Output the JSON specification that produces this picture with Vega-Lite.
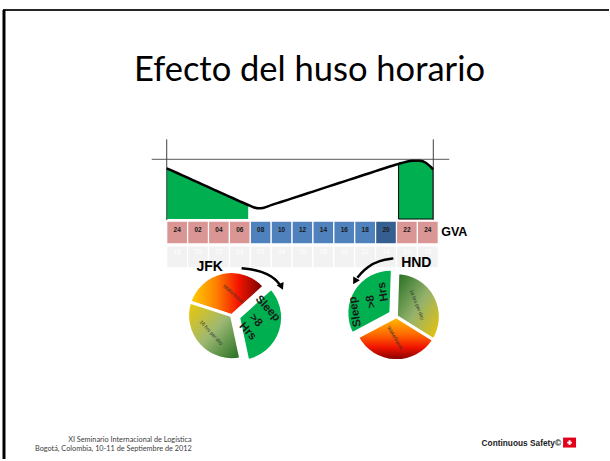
{
  "$schema": "https://vega.github.io/schema/vega-lite/v6.json",
  "width": 610,
  "height": 461,
  "autosize": {"type": "fit", "contains": "padding"},
  "padding": 0,
  "background": "white",
  "config": {"view": {"stroke": null}, "axis": {"disable": true}},
  "resolve": {"scale": {"theta": "independent"}},
  "datasets": {
    "curve": [
      {"hour": -1, "level": 85}, {"hour": 0, "level": 77.1}, {"hour": 1, "level": 69.2}, {"hour": 2, "level": 61.3},
      {"hour": 3, "level": 53.4}, {"hour": 4, "level": 45.5}, {"hour": 5, "level": 37.6}, {"hour": 6, "level": 29.7},
      {"hour": 6.8, "level": 23.5}, {"hour": 7.3, "level": 19.8}, {"hour": 7.8, "level": 18}, {"hour": 8.3, "level": 19},
      {"hour": 9, "level": 23.2}, {"hour": 10, "level": 28.9}, {"hour": 11, "level": 34.6}, {"hour": 12, "level": 40.3},
      {"hour": 13, "level": 46}, {"hour": 14, "level": 51.7}, {"hour": 15, "level": 57.4}, {"hour": 16, "level": 63.1},
      {"hour": 17, "level": 68.8}, {"hour": 18, "level": 74.5}, {"hour": 19, "level": 80.2}, {"hour": 20, "level": 85.9},
      {"hour": 21, "level": 91.3}, {"hour": 21.2, "level": 92.3}, {"hour": 21.8, "level": 95.3}, {"hour": 22.5, "level": 97.6},
      {"hour": 23.2, "level": 97.4}, {"hour": 23.8, "level": 94.2}, {"hour": 24.2, "level": 88.5}, {"hour": 24.5, "level": 83}
    ],
    "slots": [
      {"hour": 0, "from": -1, "to": 1, "gva": "24", "jfk": "18", "period": "night"},
      {"hour": 2, "from": 1, "to": 3, "gva": "02", "jfk": "20", "period": "night"},
      {"hour": 4, "from": 3, "to": 5, "gva": "04", "jfk": "22", "period": "night"},
      {"hour": 6, "from": 5, "to": 7, "gva": "06", "jfk": "24", "period": "night"},
      {"hour": 8, "from": 7, "to": 9, "gva": "08", "jfk": "02", "period": "day"},
      {"hour": 10, "from": 9, "to": 11, "gva": "10", "jfk": "04", "period": "day"},
      {"hour": 12, "from": 11, "to": 13, "gva": "12", "jfk": "06", "period": "day"},
      {"hour": 14, "from": 13, "to": 15, "gva": "14", "jfk": "08", "period": "day"},
      {"hour": 16, "from": 15, "to": 17, "gva": "16", "jfk": "10", "period": "day"},
      {"hour": 18, "from": 17, "to": 19, "gva": "18", "jfk": "12", "period": "day"},
      {"hour": 20, "from": 19, "to": 21, "gva": "20", "jfk": "14", "period": "evening"},
      {"hour": 22, "from": 21, "to": 23, "gva": "22", "jfk": "16", "period": "night"},
      {"hour": 24, "from": 23, "to": 25, "gva": "24", "jfk": "18", "period": "night"}
    ],
    "slices": [
      {"city": "JFK", "activity": "travel", "start": 0, "end": 8},
      {"city": "JFK", "activity": "sleep", "start": 8, "end": 16},
      {"city": "JFK", "activity": "day", "start": 16, "end": 24},
      {"city": "HND", "activity": "day", "start": 0, "end": 8},
      {"city": "HND", "activity": "travel", "start": 8, "end": 16},
      {"city": "HND", "activity": "sleep", "start": 16, "end": 24}
    ],
    "jfkArrow": [
      {"hour": 6.171, "level": -82.5}, {"hour": 7.509, "level": -85}, {"hour": 8.655, "level": -91.67},
      {"hour": 9.42, "level": -100.83}, {"hour": 9.8, "level": -109.17}
    ],
    "hndArrow": [
      {"hour": 20.698, "level": -65.83}, {"hour": 19.36, "level": -69.17}, {"hour": 18.213, "level": -80},
      {"hour": 17.544, "level": -91.67}, {"hour": 17.257, "level": -98.33}
    ]
  },
  "layer": [
    {
      "data": {"values": [{}]},
      "mark": {"type": "rule", "color": "#262626", "strokeWidth": 2},
      "encoding": {
        "x": {"datum": -16.676, "type": "quantitative", "scale": {"domain": [-16.963, 41.346], "nice": false, "zero": false}},
        "x2": {"datum": 41.346},
        "y": {"datum": 350, "type": "quantitative", "scale": {"domain": [-401.667, 366.667], "nice": false, "zero": false}}
      }
    },
    {
      "data": {"values": [{}]},
      "mark": {"type": "rule", "color": "#000000", "strokeWidth": 3},
      "encoding": {
        "x": {"datum": -16.581, "type": "quantitative"},
        "y": {"datum": 350, "type": "quantitative"},
        "y2": {"datum": -401.667}
      }
    },
    {
      "data": {"values": [{"t": "Efecto del huso horario"}]},
      "mark": {"type": "text", "font": "Lato", "fontSize": 34.5, "color": "#000000", "align": "center", "baseline": "alphabetic"},
      "encoding": {
        "x": {"datum": 12.669, "type": "quantitative"},
        "y": {"datum": 230.5, "type": "quantitative"},
        "text": {"field": "t"}
      }
    },
    {
      "data": {"name": "curve"},
      "transform": [{"filter": "datum.hour <= 6.8"}],
      "mark": {"type": "area", "color": "#00b050", "interpolate": "monotone"},
      "encoding": {
        "x": {"field": "hour", "type": "quantitative"},
        "y": {"field": "level", "type": "quantitative"},
        "y2": {"datum": 0}
      }
    },
    {
      "data": {"name": "curve"},
      "transform": [{"filter": "datum.hour >= 21.2"}],
      "mark": {"type": "area", "color": "#00b050", "interpolate": "monotone", "stroke": "#000000", "strokeWidth": 1},
      "encoding": {
        "x": {"field": "hour", "type": "quantitative"},
        "y": {"field": "level", "type": "quantitative"},
        "y2": {"datum": 0}
      }
    },
    {
      "data": {"values": [{}]},
      "mark": {"type": "rule", "color": "#595959", "strokeWidth": 1},
      "encoding": {
        "x": {"datum": -2.434, "type": "quantitative"},
        "x2": {"datum": 26.05},
        "y": {"datum": 100, "type": "quantitative"}
      }
    },
    {
      "data": {"values": [{"h": -1}, {"h": 24.522}]},
      "mark": {"type": "rule", "color": "#404040", "strokeWidth": 1},
      "encoding": {
        "x": {"field": "h", "type": "quantitative"},
        "y": {"datum": 133.3, "type": "quantitative"},
        "y2": {"datum": -1.67}
      }
    },
    {
      "data": {"name": "curve"},
      "mark": {"type": "line", "color": "#000000", "strokeWidth": 2.5, "interpolate": "monotone"},
      "encoding": {
        "x": {"field": "hour", "type": "quantitative"},
        "y": {"field": "level", "type": "quantitative"}
      }
    },
    {
      "data": {"name": "slots"},
      "mark": {"type": "rect", "stroke": "white", "strokeWidth": 1.2},
      "encoding": {
        "x": {"field": "from", "type": "quantitative"},
        "x2": {"field": "to"},
        "y": {"datum": -3.33, "type": "quantitative"},
        "y2": {"datum": -41.67},
        "color": {"field": "period", "type": "nominal", "legend": null,
          "scale": {"domain": ["night", "day", "evening"], "range": ["#d99694", "#4f81bd", "#355f91"]}}
      }
    },
    {
      "data": {"name": "slots"},
      "mark": {"type": "rect", "fill": "#f2f2f2", "stroke": "white", "strokeWidth": 1.2},
      "encoding": {
        "x": {"field": "from", "type": "quantitative"},
        "x2": {"field": "to"},
        "y": {"datum": -45, "type": "quantitative"},
        "y2": {"datum": -81.67}
      }
    },
    {
      "data": {"name": "slots"},
      "mark": {"type": "text", "font": "Liberation Sans", "fontSize": 6.5, "fontWeight": "bold", "color": "#1a1a1a", "baseline": "middle"},
      "encoding": {
        "x": {"field": "hour", "type": "quantitative"},
        "y": {"datum": -17.5, "type": "quantitative"},
        "text": {"field": "gva"}
      }
    },
    {
      "data": {"name": "slots"},
      "mark": {"type": "text", "font": "Liberation Sans", "fontSize": 6.5, "color": "#ffffff", "baseline": "middle"},
      "encoding": {
        "x": {"field": "hour", "type": "quantitative"},
        "y": {"datum": -55, "type": "quantitative"},
        "text": {"field": "jfk"}
      }
    },
    {
      "data": {"values": [{"t": "GVA"}]},
      "mark": {"type": "text", "font": "Liberation Sans", "fontSize": 12.5, "fontWeight": "bold", "color": "#000000", "baseline": "middle"},
      "encoding": {"x": {"datum": 26.53, "type": "quantitative"}, "y": {"datum": -21.67, "type": "quantitative"}, "text": {"field": "t"}}
    },
    {
      "data": {"values": [{"t": "JFK"}]},
      "mark": {"type": "text", "font": "Liberation Sans", "fontSize": 14, "fontWeight": "bold", "color": "#000000", "baseline": "middle"},
      "encoding": {"x": {"datum": 3.11, "type": "quantitative"}, "y": {"datum": -81, "type": "quantitative"}, "text": {"field": "t"}}
    },
    {
      "data": {"values": [{"t": "HND"}]},
      "mark": {"type": "text", "font": "Liberation Sans", "fontSize": 14, "fontWeight": "bold", "color": "#000000", "baseline": "middle"},
      "encoding": {"x": {"datum": 22.897, "type": "quantitative"}, "y": {"datum": -73.5, "type": "quantitative"}, "text": {"field": "t"}}
    },
    {
      "data": {"name": "slices"},
      "transform": [{"filter": "datum.city == 'JFK' && datum.activity == 'travel'"}],
      "mark": {"type": "arc", "outerRadius": 44, "stroke": "white", "strokeWidth": 3,
        "fill": {"gradient": "linear", "x1": 0, "y1": 0.5, "x2": 1, "y2": 0.5,
          "stops": [{"offset": 0, "color": "#ffd200"}, {"offset": 0.35, "color": "#ff8200"}, {"offset": 0.65, "color": "#f51500"}, {"offset": 1, "color": "#6e0000"}]}},
      "encoding": {
        "x": {"datum": 5.213, "type": "quantitative"},
        "y": {"datum": -161.67, "type": "quantitative"},
        "theta": {"field": "start", "type": "quantitative", "stack": null, "scale": {"domain": [0, 24], "range": [-1.2566, 5.0265]}},
        "theta2": {"field": "end"}
      }
    },
    {
      "data": {"name": "slices"},
      "transform": [{"filter": "datum.city == 'JFK' && datum.activity == 'day'"}],
      "mark": {"type": "arc", "outerRadius": 44, "stroke": "white", "strokeWidth": 3,
        "fill": {"gradient": "linear", "x1": 0, "y1": 0, "x2": 1, "y2": 1,
          "stops": [{"offset": 0, "color": "#f2c800"}, {"offset": 0.5, "color": "#9cb872"}, {"offset": 1, "color": "#1e6b1e"}]}},
      "encoding": {
        "x": {"datum": 5.213, "type": "quantitative"},
        "y": {"datum": -161.67, "type": "quantitative"},
        "theta": {"field": "start", "type": "quantitative", "stack": null, "scale": {"domain": [0, 24], "range": [-1.2566, 5.0265]}},
        "theta2": {"field": "end"}
      }
    },
    {
      "data": {"name": "slices"},
      "transform": [{"filter": "datum.city == 'JFK' && datum.activity == 'sleep'"}],
      "mark": {"type": "arc", "outerRadius": 44, "stroke": "white", "strokeWidth": 3, "fill": "#00b050"},
      "encoding": {
        "x": {"datum": 5.882, "type": "quantitative"},
        "y": {"datum": -165, "type": "quantitative"},
        "theta": {"field": "start", "type": "quantitative", "stack": null, "scale": {"domain": [0, 24], "range": [-1.2566, 5.0265]}},
        "theta2": {"field": "end"}
      }
    },
    {
      "data": {"name": "slices"},
      "transform": [{"filter": "datum.city == 'HND' && datum.activity == 'day'"}],
      "mark": {"type": "arc", "outerRadius": 44, "stroke": "white", "strokeWidth": 3,
        "fill": {"gradient": "linear", "x1": 0, "y1": 0, "x2": 1, "y2": 1,
          "stops": [{"offset": 0, "color": "#1e6b1e"}, {"offset": 0.5, "color": "#94b26c"}, {"offset": 1, "color": "#f0c400"}]}},
      "encoding": {
        "x": {"datum": 20.985, "type": "quantitative"},
        "y": {"datum": -163.33, "type": "quantitative"},
        "theta": {"field": "start", "type": "quantitative", "stack": null, "scale": {"domain": [0, 24], "range": [0.0349, 6.3181]}},
        "theta2": {"field": "end"}
      }
    },
    {
      "data": {"name": "slices"},
      "transform": [{"filter": "datum.city == 'HND' && datum.activity == 'travel'"}],
      "mark": {"type": "arc", "outerRadius": 44, "stroke": "white", "strokeWidth": 3,
        "fill": {"gradient": "linear", "x1": 0.5, "y1": 0, "x2": 0.5, "y2": 1,
          "stops": [{"offset": 0, "color": "#ffc000"}, {"offset": 0.4, "color": "#ff6a00"}, {"offset": 0.7, "color": "#f01400"}, {"offset": 1, "color": "#7a0000"}]}},
      "encoding": {
        "x": {"datum": 20.985, "type": "quantitative"},
        "y": {"datum": -163.33, "type": "quantitative"},
        "theta": {"field": "start", "type": "quantitative", "stack": null, "scale": {"domain": [0, 24], "range": [0.0349, 6.3181]}},
        "theta2": {"field": "end"}
      }
    },
    {
      "data": {"name": "slices"},
      "transform": [{"filter": "datum.city == 'HND' && datum.activity == 'sleep'"}],
      "mark": {"type": "arc", "outerRadius": 44, "stroke": "white", "strokeWidth": 3, "fill": "#00b050"},
      "encoding": {
        "x": {"datum": 20.46, "type": "quantitative"},
        "y": {"datum": -157.5, "type": "quantitative"},
        "theta": {"field": "start", "type": "quantitative", "stack": null, "scale": {"domain": [0, 24], "range": [0.0349, 6.3181]}},
        "theta2": {"field": "end"}
      }
    },
    {
      "data": {"values": [{"t": "Wake/travel"}]},
      "mark": {"type": "text", "font": "Liberation Sans", "fontSize": 5, "color": "#333333", "angle": 42, "baseline": "middle"},
      "encoding": {"x": {"datum": 5.404, "type": "quantitative"}, "y": {"datum": -125, "type": "quantitative"}, "text": {"field": "t"}}
    },
    {
      "data": {"values": [{"t": "16 hrs per day"}]},
      "mark": {"type": "text", "font": "Liberation Sans", "fontSize": 5, "color": "#333333", "angle": 47, "baseline": "middle"},
      "encoding": {"x": {"datum": 3.302, "type": "quantitative"}, "y": {"datum": -190, "type": "quantitative"}, "text": {"field": "t"}}
    },
    {
      "data": {"values": [{"t": "Sleep"}]},
      "mark": {"type": "text", "font": "Liberation Sans", "fontSize": 11.5, "fontWeight": "bold", "color": "#1a1a1a", "angle": 47, "baseline": "middle"},
      "encoding": {"x": {"datum": 8.655, "type": "quantitative"}, "y": {"datum": -150, "type": "quantitative"}, "text": {"field": "t"}}
    },
    {
      "data": {"values": [{"t": ">8"}]},
      "mark": {"type": "text", "font": "Liberation Sans", "fontSize": 11.5, "fontWeight": "bold", "color": "#1a1a1a", "angle": 47, "baseline": "middle"},
      "encoding": {"x": {"datum": 7.507, "type": "quantitative"}, "y": {"datum": -170, "type": "quantitative"}, "text": {"field": "t"}}
    },
    {
      "data": {"values": [{"t": "Hrs"}]},
      "mark": {"type": "text", "font": "Liberation Sans", "fontSize": 11.5, "fontWeight": "bold", "color": "#1a1a1a", "angle": 47, "baseline": "middle"},
      "encoding": {"x": {"datum": 6.743, "type": "quantitative"}, "y": {"datum": -188.3, "type": "quantitative"}, "text": {"field": "t"}}
    },
    {
      "data": {"values": [{"t": "16 hrs per day"}]},
      "mark": {"type": "text", "font": "Liberation Sans", "fontSize": 5, "color": "#333333", "angle": 68, "baseline": "middle"},
      "encoding": {"x": {"datum": 22.993, "type": "quantitative"}, "y": {"datum": -143.3, "type": "quantitative"}, "text": {"field": "t"}}
    },
    {
      "data": {"values": [{"t": "Wake/travel"}]},
      "mark": {"type": "text", "font": "Liberation Sans", "fontSize": 5, "color": "#333333", "angle": 60, "baseline": "middle"},
      "encoding": {"x": {"datum": 20.89, "type": "quantitative"}, "y": {"datum": -198.3, "type": "quantitative"}, "text": {"field": "t"}}
    },
    {
      "data": {"values": [{"t": "Sleep"}]},
      "mark": {"type": "text", "font": "Liberation Sans", "fontSize": 11.5, "fontWeight": "bold", "color": "#1a1a1a", "angle": -100, "baseline": "middle"},
      "encoding": {"x": {"datum": 17.066, "type": "quantitative"}, "y": {"datum": -155, "type": "quantitative"}, "text": {"field": "t"}}
    },
    {
      "data": {"values": [{"t": ">8"}]},
      "mark": {"type": "text", "font": "Liberation Sans", "fontSize": 11.5, "fontWeight": "bold", "color": "#1a1a1a", "angle": -100, "baseline": "middle"},
      "encoding": {"x": {"datum": 18.596, "type": "quantitative"}, "y": {"datum": -138.3, "type": "quantitative"}, "text": {"field": "t"}}
    },
    {
      "data": {"values": [{"t": "Hrs"}]},
      "mark": {"type": "text", "font": "Liberation Sans", "fontSize": 11.5, "fontWeight": "bold", "color": "#1a1a1a", "angle": -100, "baseline": "middle"},
      "encoding": {"x": {"datum": 19.743, "type": "quantitative"}, "y": {"datum": -121.7, "type": "quantitative"}, "text": {"field": "t"}}
    },
    {
      "data": {"name": "jfkArrow"},
      "mark": {"type": "line", "color": "#000000", "strokeWidth": 2.5, "interpolate": "basis"},
      "encoding": {"x": {"field": "hour", "type": "quantitative"}, "y": {"field": "level", "type": "quantitative"}}
    },
    {
      "data": {"name": "hndArrow"},
      "mark": {"type": "line", "color": "#000000", "strokeWidth": 2.5, "interpolate": "basis"},
      "encoding": {"x": {"field": "hour", "type": "quantitative"}, "y": {"field": "level", "type": "quantitative"}}
    },
    {
      "data": {"values": [{}]},
      "mark": {"type": "point", "shape": "triangle", "filled": true, "color": "#000000", "opacity": 1, "size": 60, "angle": 155},
      "encoding": {"x": {"datum": 9.944, "type": "quantitative"}, "y": {"datum": -111.67, "type": "quantitative"}}
    },
    {
      "data": {"values": [{}]},
      "mark": {"type": "point", "shape": "triangle", "filled": true, "color": "#000000", "opacity": 1, "size": 60, "angle": 210},
      "encoding": {"x": {"datum": 17.066, "type": "quantitative"}, "y": {"datum": -102.5, "type": "quantitative"}}
    },
    {
      "data": {"values": [{"t": "XI Seminario Internacional de Logística"}]},
      "mark": {"type": "text", "font": "Lato", "fontSize": 7.3, "color": "#404040", "align": "right", "baseline": "middle"},
      "encoding": {"x": {"datum": 1.39, "type": "quantitative"}, "y": {"datum": -370.5, "type": "quantitative"}, "text": {"field": "t"}}
    },
    {
      "data": {"values": [{"t": "Bogotá, Colombia, 10-11 de Septiembre de 2012"}]},
      "mark": {"type": "text", "font": "Lato", "fontSize": 7.3, "color": "#404040", "align": "right", "baseline": "middle"},
      "encoding": {"x": {"datum": 1.39, "type": "quantitative"}, "y": {"datum": -385, "type": "quantitative"}, "text": {"field": "t"}}
    },
    {
      "data": {"values": [{"t": "Continuous Safety©"}]},
      "mark": {"type": "text", "font": "Liberation Sans", "fontSize": 8.3, "fontWeight": "bold", "color": "#1a1a1a", "align": "right", "baseline": "middle"},
      "encoding": {"x": {"datum": 36.75, "type": "quantitative"}, "y": {"datum": -376.7, "type": "quantitative"}, "text": {"field": "t"}}
    },
    {
      "data": {"values": [{}]},
      "mark": {"type": "rect", "color": "#e3001b"},
      "encoding": {
        "x": {"datum": 36.95, "type": "quantitative"}, "x2": {"datum": 38.19},
        "y": {"datum": -365.8, "type": "quantitative"}, "y2": {"datum": -382.5}
      }
    },
    {
      "data": {"values": [{}]},
      "mark": {"type": "point", "shape": "cross", "filled": true, "color": "#ffffff", "opacity": 1, "size": 22},
      "encoding": {"x": {"datum": 37.57, "type": "quantitative"}, "y": {"datum": -374.2, "type": "quantitative"}}
    }
  ]
}
